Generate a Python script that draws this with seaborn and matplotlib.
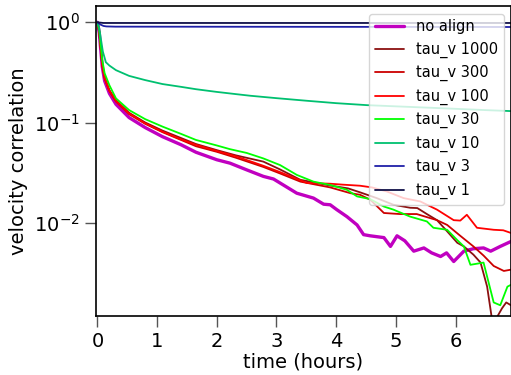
import numpy as np
import pandas as pd
import matplotlib
matplotlib.use("Agg")
import matplotlib.pyplot as plt
import seaborn as sns
from matplotlib.ticker import NullLocator

# velocity autocorrelation vs time (hours)
t_noalign = [0, 0.03, 0.08, 0.12, 0.2, 0.31, 0.53, 0.8, 1.09, 1.4, 1.65, 2.0, 2.22, 2.5, 2.78,
             2.95, 3.06, 3.34, 3.62, 3.79, 3.9, 4.01, 4.18, 4.35, 4.46, 4.57, 4.8, 4.91, 5.02,
             5.15, 5.3, 5.47, 5.6, 5.75, 5.85, 5.97, 6.14, 6.3, 6.47, 6.59, 6.75, 6.93]
v_noalign = [1.0, 0.78, 0.36, 0.26, 0.195, 0.152, 0.112, 0.089, 0.0722, 0.060, 0.0505, 0.0425,
             0.0393, 0.0337, 0.029, 0.0273, 0.0249, 0.0197, 0.0176, 0.0153, 0.0151, 0.0135,
             0.0115, 0.0095, 0.0076, 0.0074, 0.0071, 0.0058, 0.0074, 0.0066, 0.0052, 0.0056,
             0.0050, 0.0046, 0.0050, 0.0041, 0.0052, 0.0055, 0.0056, 0.0052, 0.0058, 0.0065]

t_1000 = [0, 0.03, 0.08, 0.12, 0.2, 0.31, 0.53, 0.8, 1.09, 1.4, 1.65, 2.0, 2.32, 2.78, 3.06,
          3.4, 3.9, 4.2, 4.4, 4.68, 4.96, 5.24, 5.36, 5.52, 5.69, 5.86, 6.03, 6.14, 6.3, 6.42,
          6.53, 6.61, 6.68, 6.78, 6.85, 6.93]
v_1000 = [1.0, 0.80, 0.38, 0.28, 0.21, 0.166, 0.125, 0.100, 0.083, 0.070, 0.061, 0.053, 0.047,
          0.0407, 0.034, 0.0268, 0.0235, 0.022, 0.0201, 0.0176, 0.0151, 0.0141, 0.0140, 0.0122,
          0.0106, 0.0082, 0.0063, 0.0058, 0.0048, 0.0040, 0.0023, 0.0011, 0.0011, 0.0014,
          0.0016, 0.0015]

t_300 = [0, 0.03, 0.08, 0.12, 0.2, 0.31, 0.53, 0.8, 1.09, 1.4, 1.65, 2.0, 2.32, 2.78, 3.06,
         3.4, 3.9, 4.24, 4.4, 4.57, 4.8, 5.07, 5.35, 5.69, 5.86, 6.08, 6.3, 6.47, 6.64, 6.81, 6.93]
v_300 = [1.0, 0.79, 0.37, 0.275, 0.205, 0.162, 0.121, 0.097, 0.080, 0.067, 0.058, 0.051, 0.0445,
         0.036, 0.031, 0.0257, 0.0225, 0.0197, 0.0190, 0.0170, 0.0125, 0.0122, 0.0122, 0.0106,
         0.0095, 0.0074, 0.0058, 0.0047, 0.0037, 0.0033, 0.0034]

t_100 = [0, 0.03, 0.08, 0.12, 0.2, 0.31, 0.53, 0.8, 1.09, 1.4, 1.65, 2.0, 2.32, 2.78, 3.06,
         3.51, 3.9, 4.1, 4.4, 4.6, 4.85, 5.13, 5.41, 5.69, 5.97, 6.08, 6.19, 6.36, 6.64, 6.8, 6.93]
v_100 = [1.0, 0.80, 0.375, 0.278, 0.208, 0.164, 0.123, 0.098, 0.081, 0.068, 0.060, 0.052, 0.046,
         0.037, 0.032, 0.0249, 0.0245, 0.0240, 0.0234, 0.0225, 0.0205, 0.0176, 0.0163, 0.0135,
         0.0106, 0.0105, 0.0120, 0.0089, 0.0085, 0.0084, 0.0079]

t_30 = [0, 0.03, 0.08, 0.12, 0.2, 0.31, 0.53, 0.8, 1.09, 1.4, 1.65, 2.0, 2.22, 2.5, 2.78, 3.06,
        3.34, 3.62, 3.9, 4.18, 4.35, 4.57, 4.8, 4.96, 5.24, 5.52, 5.63, 5.86, 6.03, 6.14, 6.25,
        6.47, 6.64, 6.75, 6.87, 6.93]
v_30 = [1.0, 0.82, 0.42, 0.31, 0.235, 0.174, 0.133, 0.108, 0.091, 0.077, 0.067, 0.059, 0.0542,
        0.0497, 0.0438, 0.0376, 0.0300, 0.0257, 0.0238, 0.0213, 0.0183, 0.0172, 0.0145, 0.0135,
        0.0115, 0.0103, 0.0089, 0.0085, 0.0067, 0.0058, 0.0038, 0.0040, 0.0016, 0.0015, 0.0023,
        0.0024]

t_10 = [0, 0.03, 0.09, 0.14, 0.2, 0.31, 0.53, 0.8, 1.09, 1.4, 1.65, 2.0, 2.32, 2.56, 3.0, 3.5,
        4.0, 4.52, 5.0, 5.5, 6.0, 6.5, 6.93]
v_10 = [1.0, 0.87, 0.51, 0.40, 0.37, 0.333, 0.292, 0.265, 0.242, 0.227, 0.215, 0.202, 0.192,
        0.185, 0.175, 0.165, 0.156, 0.149, 0.145, 0.141, 0.137, 0.133, 0.130]

t_3 = [0, 0.05, 0.1, 0.15, 0.3, 6.93]
v_3 = [1.0, 0.95, 0.92, 0.91, 0.905, 0.898]

t_1 = [0, 0.1, 6.93]
v_1 = [1.0, 0.985, 0.985]

labels = ["no align", "tau_v 1000", "tau_v 300", "tau_v 100", "tau_v 30", "tau_v 10",
          "tau_v 3", "tau_v 1"]
colors = ["#c000c0", "#8b1010", "#cc0000", "#ff0000", "#00ff00", "#00c070", "#2020a8", "#101048"]
widths = [2.4, 1.3, 1.3, 1.3, 1.3, 1.3, 1.3, 1.3]

series = [(t_noalign, v_noalign), (t_1000, v_1000), (t_300, v_300), (t_100, v_100),
          (t_30, v_30), (t_10, v_10), (t_3, v_3), (t_1, v_1)]

frames = []
for lab, (t, v) in zip(labels, series):
    frames.append(pd.DataFrame({"time": t, "corr": v, "run": lab}))
df = pd.concat(frames, ignore_index=True)

sns.set_style("ticks")
plt.rcParams["font.family"] = ["DejaVu Sans"]
plt.rcParams["text.color"] = "black"
plt.rcParams["axes.labelcolor"] = "black"

fig = plt.figure(figsize=(5.11, 3.75), dpi=100)
ax = fig.add_axes([95.7 / 511, (375 - 315.7) / 375, (511 - 95.7) / 511, (315.7 - 6.3) / 375])

for lab, col, lw in zip(labels, colors, widths):
    sns.lineplot(data=df[df["run"] == lab], x="time", y="corr", color=col, lw=lw,
                 label=lab, ax=ax, estimator=None, sort=False)

ax.set_yscale("log")
ax.set_xlim(-0.03, 6.93)
ax.set_ylim(0.00118, 1.445)
ax.yaxis.set_minor_locator(NullLocator())
ax.set_xticks([0, 1, 2, 3, 4, 5, 6])
ax.tick_params(axis="both", which="major", labelsize=14, length=8, width=1,
               color="#555555", labelcolor="black")
ax.set_xlabel("time (hours)", fontsize=14, labelpad=1)
ax.set_ylabel("velocity correlation", fontsize=14)
for s in ax.spines.values():
    s.set_color("black")
    s.set_linewidth(1.2)

ax.legend(loc="upper right", fontsize=10.5, framealpha=0.8)

fig.savefig("out.png", dpi=100)
